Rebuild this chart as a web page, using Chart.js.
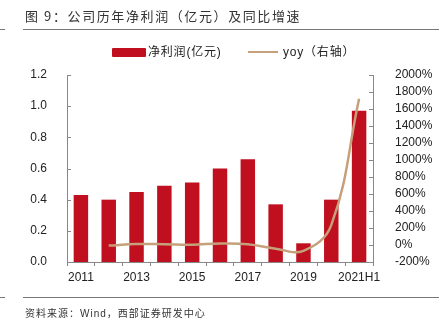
<!DOCTYPE html>
<html>
<head>
<meta charset="utf-8">
<script src="https://cdn.jsdelivr.net/npm/chart.js@4.4.1/dist/chart.umd.min.js"></script>
<style>
  html, body { margin: 0; padding: 0; background: #fff; }
  body { width: 439px; height: 332px; position: relative; overflow: hidden;
         font-family: "Liberation Sans", Arial, "Noto Sans CJK SC", sans-serif; color: #222; }
  #chart { position: absolute; left: 0; top: 0; }
  .title { position: absolute; left: 25px; top: 6px; font-size: 13px; letter-spacing: 1.6px; color: #333;
           font-family: "Noto Sans CJK SC", sans-serif; }
  .rule { position: absolute; height: 1px; background: #777; }
  .lg { position: absolute; top: 44px; font-size: 12px; line-height: 16px; letter-spacing: 0.8px;
        font-family: "Liberation Sans", "Noto Sans CJK SC", sans-serif; }
  .lg-bar { position: absolute; left: 112px; top: 48px; width: 34px; height: 9px; background: #C00F1F; border-radius: 1px; }
  .lg-ln { position: absolute; left: 248px; top: 51px; width: 30px; height: 2px; background: #C6A07A; }
  .source { position: absolute; left: 25px; top: 305px; font-size: 10px; color: #333; letter-spacing: 1px;
            font-family: "Liberation Sans", "Noto Sans CJK SC", sans-serif; }
</style>
</head>
<body>
<canvas id="chart" width="439" height="332"></canvas>
<div class="title">图 9：公司历年净利润（亿元）及同比增速</div>
<div class="rule" style="left:0;width:5px;top:29px"></div>
<div class="rule" style="left:23px;right:0;top:29px"></div>
<div class="lg-bar"></div><div class="lg" style="left:148px">净利润(亿元)</div>
<div class="lg-ln"></div><div class="lg" style="left:283px">yoy（右轴）</div>
<div class="rule" style="left:0;width:5px;top:297px"></div>
<div class="rule" style="left:23px;right:0;top:297px"></div>
<div class="source">资料来源：Wind，西部证券研发中心</div>

<script>
const years = ['2011', '2012', '2013', '2014', '2015', '2016', '2017', '2018', '2019', '2020', '2021H1'];
const netProfit = [0.43, 0.40, 0.45, 0.49, 0.51, 0.60, 0.66, 0.37, 0.12, 0.40, 0.97];
const yoy = [null, -7, 12, 9, 4, 18, 10, -44, -68, 233, 1720];
const leftTicks = [0, 0.2, 0.4, 0.6, 0.8, 1.0, 1.2];

const axisColor = '#888';
const labelFont = { family: '"Liberation Sans", Arial, sans-serif', size: 12 };

// short inward tick marks on the two value axes
const innerTicks = {
  id: 'innerTicks',
  afterDraw(chart) {
    const ctx = chart.ctx;
    ctx.save();
    ctx.strokeStyle = axisColor;
    ctx.lineWidth = 1;
    ['y', 'y1'].forEach(id => {
      const s = chart.scales[id];
      const x = id === 'y' ? chart.chartArea.left : chart.chartArea.right;
      const dir = id === 'y' ? 1 : -1;
      s.ticks.forEach((t, i) => {
        const py = Math.round(s.getPixelForTick(i)) + 0.5;
        ctx.beginPath();
        ctx.moveTo(x, py);
        ctx.lineTo(x + dir * 4, py);
        ctx.stroke();
      });
    });
    ctx.restore();
  }
};

new Chart(document.getElementById('chart'), {
  data: {
    labels: years,
    datasets: [
      {
        type: 'line',
        label: 'yoy（右轴）',
        data: yoy,
        yAxisID: 'y1',
        borderColor: '#C6A07A',
        borderWidth: 2.5,
        pointRadius: 0,
        tension: 0.4,
        order: 0
      },
      {
        type: 'bar',
        label: '净利润(亿元)',
        data: netProfit,
        yAxisID: 'y',
        backgroundColor: '#C00F1F',
        categoryPercentage: 1,
        barPercentage: 0.52,
        order: 1
      }
    ]
  },
  options: {
    responsive: false,
    animation: false,
    layout: { padding: { top: 75, left: 0, right: 0, bottom: 0 } },
    plugins: { legend: { display: false }, tooltip: { enabled: false } },
    scales: {
      x: {
        offset: true,
        afterFit: s => { s.height = 70; },
        grid: { display: true, drawOnChartArea: false, offset: true, tickLength: 4, color: axisColor },
        border: { color: axisColor },
        ticks: {
          autoSkip: false, maxRotation: 0, padding: 4, color: '#222', font: labelFont,
          callback: (v, i) => (i % 2 === 0 ? years[i] : '')
        }
      },
      y: {
        position: 'left',
        min: 0, max: 1.2,
        afterFit: s => { s.width = 67; },
        afterBuildTicks: s => { s.ticks = leftTicks.map(v => ({ value: v })); },
        grid: { display: false },
        border: { color: axisColor },
        ticks: { padding: 12, color: '#222', font: labelFont, callback: v => v.toFixed(1) }
      },
      y1: {
        position: 'right',
        min: -200, max: 2000,
        afterFit: s => { s.width = 66; },
        grid: { display: false },
        border: { color: axisColor },
        ticks: { stepSize: 200, autoSkip: false, padding: 14, color: '#222', font: labelFont, callback: v => v + '%' }
      }
    }
  },
  plugins: [innerTicks]
});
</script>
</body>
</html>
